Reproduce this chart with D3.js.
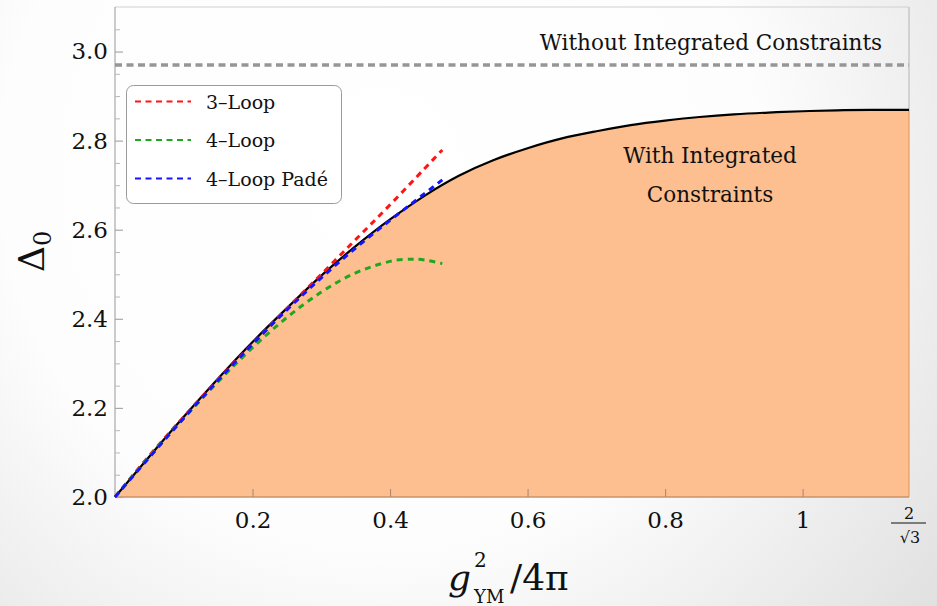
<!DOCTYPE html>
<html>
<head>
<meta charset="utf-8">
<script src="https://cdn.jsdelivr.net/npm/d3@7"></script>
<style>
  html, body { margin: 0; padding: 0; background: #ffffff; }
  svg { display: block; }
  text { font-family: "DejaVu Serif", "Liberation Serif", serif; fill: #111; }
</style>
</head>
<body>
<svg id="chart" width="937" height="606"></svg>
<script>
// ---------------- DATA ----------------
const xMaxValue = 2 / Math.sqrt(3);
const yTicksMajor = [2.0, 2.2, 2.4, 2.6, 2.8, 3.0];
const yTickLabels = ["2.0", "2.2", "2.4", "2.6", "2.8", "3.0"];
const yTicksMinor = [2.05, 2.1, 2.15, 2.25, 2.3, 2.35, 2.45, 2.5, 2.55, 2.65, 2.7, 2.75, 2.85, 2.9, 2.95, 3.05];
const xTicksMajor = [0.2, 0.4, 0.6, 0.8, 1.0];
const xTickLabels = ["0.2", "0.4", "0.6", "0.8", "1"];
const xEndLabelNum = "2";
const xEndLabelDen = "\u221A3";

// Bound with integrated constraints (black curve, filled below)
const boundX = [0, 0.05, 0.10, 0.15, 0.20, 0.25, 0.30, 0.35, 0.40, 0.45, 0.50, 0.55, 0.60, 0.65, 0.70, 0.75, 0.80, 0.85, 0.90, 0.95, 1.00, 1.05, 1.10, 1.1547];
const boundY = [2.000, 2.091, 2.180, 2.266, 2.348, 2.424, 2.497, 2.563, 2.623, 2.676, 2.721, 2.756, 2.783, 2.805, 2.821, 2.835, 2.845, 2.853, 2.859, 2.863, 2.866, 2.868, 2.869, 2.869];

// Perturbative curves
const loop3X = [0, 0.05, 0.10, 0.15, 0.20, 0.25, 0.30, 0.35, 0.40, 0.45, 0.476];
const loop3Y = [2.000, 2.093, 2.180, 2.264, 2.344, 2.423, 2.500, 2.578, 2.656, 2.737, 2.779];
const loop4X = [0, 0.05, 0.10, 0.15, 0.20, 0.25, 0.30, 0.35, 0.40, 0.43, 0.45, 0.476];
const loop4Y = [2.000, 2.091, 2.177, 2.259, 2.335, 2.403, 2.460, 2.503, 2.529, 2.534, 2.532, 2.524];
const padeX = [0, 0.05, 0.10, 0.15, 0.20, 0.25, 0.30, 0.35, 0.40, 0.45, 0.476];
const padeY = [2.000, 2.089, 2.177, 2.262, 2.343, 2.420, 2.492, 2.559, 2.621, 2.681, 2.712];

// Unconstrained bound
const noConstraintValue = 2.97;

const legendLabels = ["3\u2013Loop", "4\u2013Loop", "4\u2013Loop Pad\u00E9"];
const seriesColors = ["#ff1414", "#1fa81f", "#1414ff"];

const axisTitleY = "\u0394";
const axisTitleYSub = "0";
const textWithout = "Without Integrated Constraints";
const textWith1 = "With Integrated";
const textWith2 = "Constraints";

// ---------------- DRAW ----------------
const svg = d3.select("#chart");
const W = 937, H = 606;
const pLeft = 115, pRight = 909, pTop = 7, pBottom = 497;

const x = d3.scaleLinear().domain([0, xMaxValue]).range([pLeft, pRight]);
const y = d3.scaleLinear().domain([2.0, 3.1]).range([pBottom, pTop]);

// background gradient
const defs = svg.append("defs");
const rg = defs.append("radialGradient").attr("id", "bg")
  .attr("gradientUnits", "userSpaceOnUse")
  .attr("cx", 380).attr("cy", 170).attr("r", 760);
rg.append("stop").attr("offset", "0").attr("stop-color", "#ffffff");
rg.append("stop").attr("offset", "0.5").attr("stop-color", "#fdfdfd");
rg.append("stop").attr("offset", "1").attr("stop-color", "#dcdcdc");
svg.append("rect").attr("width", W).attr("height", H).attr("fill", "url(#bg)");

const boundData = boundX.map((v, i) => ({x: v, y: boundY[i]}));
const mk = (xs, ys) => xs.map((v, i) => ({x: v, y: ys[i]}));
const yEnd = boundY[boundY.length - 1];

// fill
const area = d3.area().x(d => x(d.x)).y0(y(2.0)).y1(d => y(d.y)).curve(d3.curveNatural);
svg.append("path").datum(boundData).attr("d", area).attr("fill", "#fdbf90").attr("stroke", "none");
// right edge of fill
svg.append("line").attr("x1", x(xMaxValue)).attr("x2", x(xMaxValue))
  .attr("y1", y(yEnd)).attr("y2", y(2.0))
  .attr("stroke", "#e89a60").attr("stroke-width", 1.2);

// frame
svg.append("line").attr("x1", pLeft).attr("x2", pRight).attr("y1", pTop).attr("y2", pTop)
  .attr("stroke", "#d0d0d0").attr("stroke-width", 1);
svg.append("line").attr("x1", pRight).attr("x2", pRight).attr("y1", pTop).attr("y2", y(yEnd))
  .attr("stroke", "#b4b4b4").attr("stroke-width", 1);
svg.append("line").attr("x1", pLeft).attr("x2", pLeft).attr("y1", pTop).attr("y2", pBottom)
  .attr("stroke", "#a8a8a8").attr("stroke-width", 1.2);
svg.append("line").attr("x1", pLeft).attr("x2", pRight).attr("y1", pBottom).attr("y2", pBottom)
  .attr("stroke", "#c8936a").attr("stroke-width", 1.4);

// y axis (ticks inside)
const yAxis = d3.axisLeft(y).tickValues(yTicksMajor)
  .tickFormat((d, i) => yTickLabels[i]).tickSize(-8).tickPadding(7);
const gy = svg.append("g").attr("transform", `translate(${pLeft},0)`).call(yAxis);
gy.select(".domain").remove();
gy.selectAll(".tick line").attr("stroke", "#a8a8a8").attr("stroke-width", 1.2);
gy.selectAll(".tick text").attr("font-size", 23).attr("font-family", "DejaVu Serif").attr("fill", "#111");

const yAxisMinor = d3.axisLeft(y).tickValues(yTicksMinor).tickFormat("").tickSize(-5);
const gym = svg.append("g").attr("transform", `translate(${pLeft},0)`).call(yAxisMinor);
gym.select(".domain").remove();
gym.selectAll(".tick line").attr("stroke", "#b8b8b8").attr("stroke-width", 1);

// x axis
const xAxis = d3.axisBottom(x).tickValues(xTicksMajor)
  .tickFormat((d, i) => xTickLabels[i]).tickSize(-8).tickPadding(15);
const gx = svg.append("g").attr("transform", `translate(0,${pBottom})`).call(xAxis);
gx.select(".domain").remove();
gx.selectAll(".tick line").attr("stroke", "#b08a70").attr("stroke-width", 1.1);
gx.selectAll(".tick text").attr("font-size", 23).attr("font-family", "DejaVu Serif").attr("fill", "#111");

// fraction label 2/sqrt3
const fx = x(xMaxValue);
svg.append("text").attr("x", fx).attr("y", 519).attr("text-anchor", "middle")
  .attr("font-size", 16).text(xEndLabelNum);
svg.append("line").attr("x1", fx - 18).attr("x2", fx + 17).attr("y1", 523).attr("y2", 523)
  .attr("stroke", "#111").attr("stroke-width", 1);
svg.append("text").attr("x", fx + 1).attr("y", 543).attr("text-anchor", "middle")
  .attr("font-size", 16).text(xEndLabelDen);

// gray dashed line (no constraints)
svg.append("line").attr("x1", pLeft).attr("x2", pRight)
  .attr("y1", y(noConstraintValue)).attr("y2", y(noConstraintValue))
  .attr("stroke", "#969696").attr("stroke-width", 3.5).attr("stroke-dasharray", "7,4.5");

// black bound curve
const line = d3.line().x(d => x(d.x)).y(d => y(d.y)).curve(d3.curveNatural);
svg.append("path").datum(boundData).attr("d", line)
  .attr("fill", "none").attr("stroke", "#000").attr("stroke-width", 2.2);

// perturbative dashed curves
const series = [mk(loop3X, loop3Y), mk(loop4X, loop4Y), mk(padeX, padeY)];
const lineC = d3.line().x(d => x(d.x)).y(d => y(d.y)).curve(d3.curveNatural);
series.forEach((s, i) => {
  svg.append("path").datum(s).attr("d", lineC)
    .attr("fill", "none").attr("stroke", seriesColors[i]).attr("stroke-width", 3)
    .attr("stroke-dasharray", "6,5");
});

// annotations
svg.append("text").attr("x", 711).attr("y", 50).attr("text-anchor", "middle")
  .attr("font-size", 21.5).text(textWithout);
svg.append("text").attr("x", 710).attr("y", 163).attr("text-anchor", "middle")
  .attr("font-size", 21.5).text(textWith1);
svg.append("text").attr("x", 710).attr("y", 202).attr("text-anchor", "middle")
  .attr("font-size", 21.5).text(textWith2);

// legend
const lg = svg.append("g");
lg.append("rect").attr("x", 126.5).attr("y", 85.5).attr("width", 215).attr("height", 118)
  .attr("rx", 7).attr("fill", "#ffffff").attr("stroke", "#9a9a9a").attr("stroke-width", 1);
const legendY = [101.5, 140, 178.5];
legendLabels.forEach((lab, i) => {
  lg.append("line").attr("x1", 135).attr("x2", 191).attr("y1", legendY[i]).attr("y2", legendY[i])
    .attr("stroke", seriesColors[i]).attr("stroke-width", 2).attr("stroke-dasharray", "6,4.5");
  lg.append("text").attr("x", 206).attr("y", legendY[i] + 7).attr("font-size", 19).text(lab);
});

// y axis title
const yt = svg.append("text").attr("transform", "translate(44,272) rotate(-90)")
  .attr("font-size", 36);
yt.append("tspan").text(axisTitleY);
yt.append("tspan").attr("dy", 7).attr("font-size", 24).text(axisTitleYSub);

// x axis title: g^2_YM / 4π
const tf = "Liberation Serif";
svg.append("text").attr("x", 448).attr("y", 590).attr("font-size", 36).attr("font-family", tf)
  .attr("font-style", "italic").text("g");
svg.append("text").attr("x", 474).attr("y", 567).attr("font-size", 20).attr("font-family", tf).text("2");
svg.append("text").attr("x", 474).attr("y", 603).attr("font-size", 18).attr("font-family", tf).text("YM");
svg.append("text").attr("x", 510).attr("y", 590).attr("font-size", 36).attr("font-family", tf).text("/4\u03C0");
</script>
</body>
</html>
